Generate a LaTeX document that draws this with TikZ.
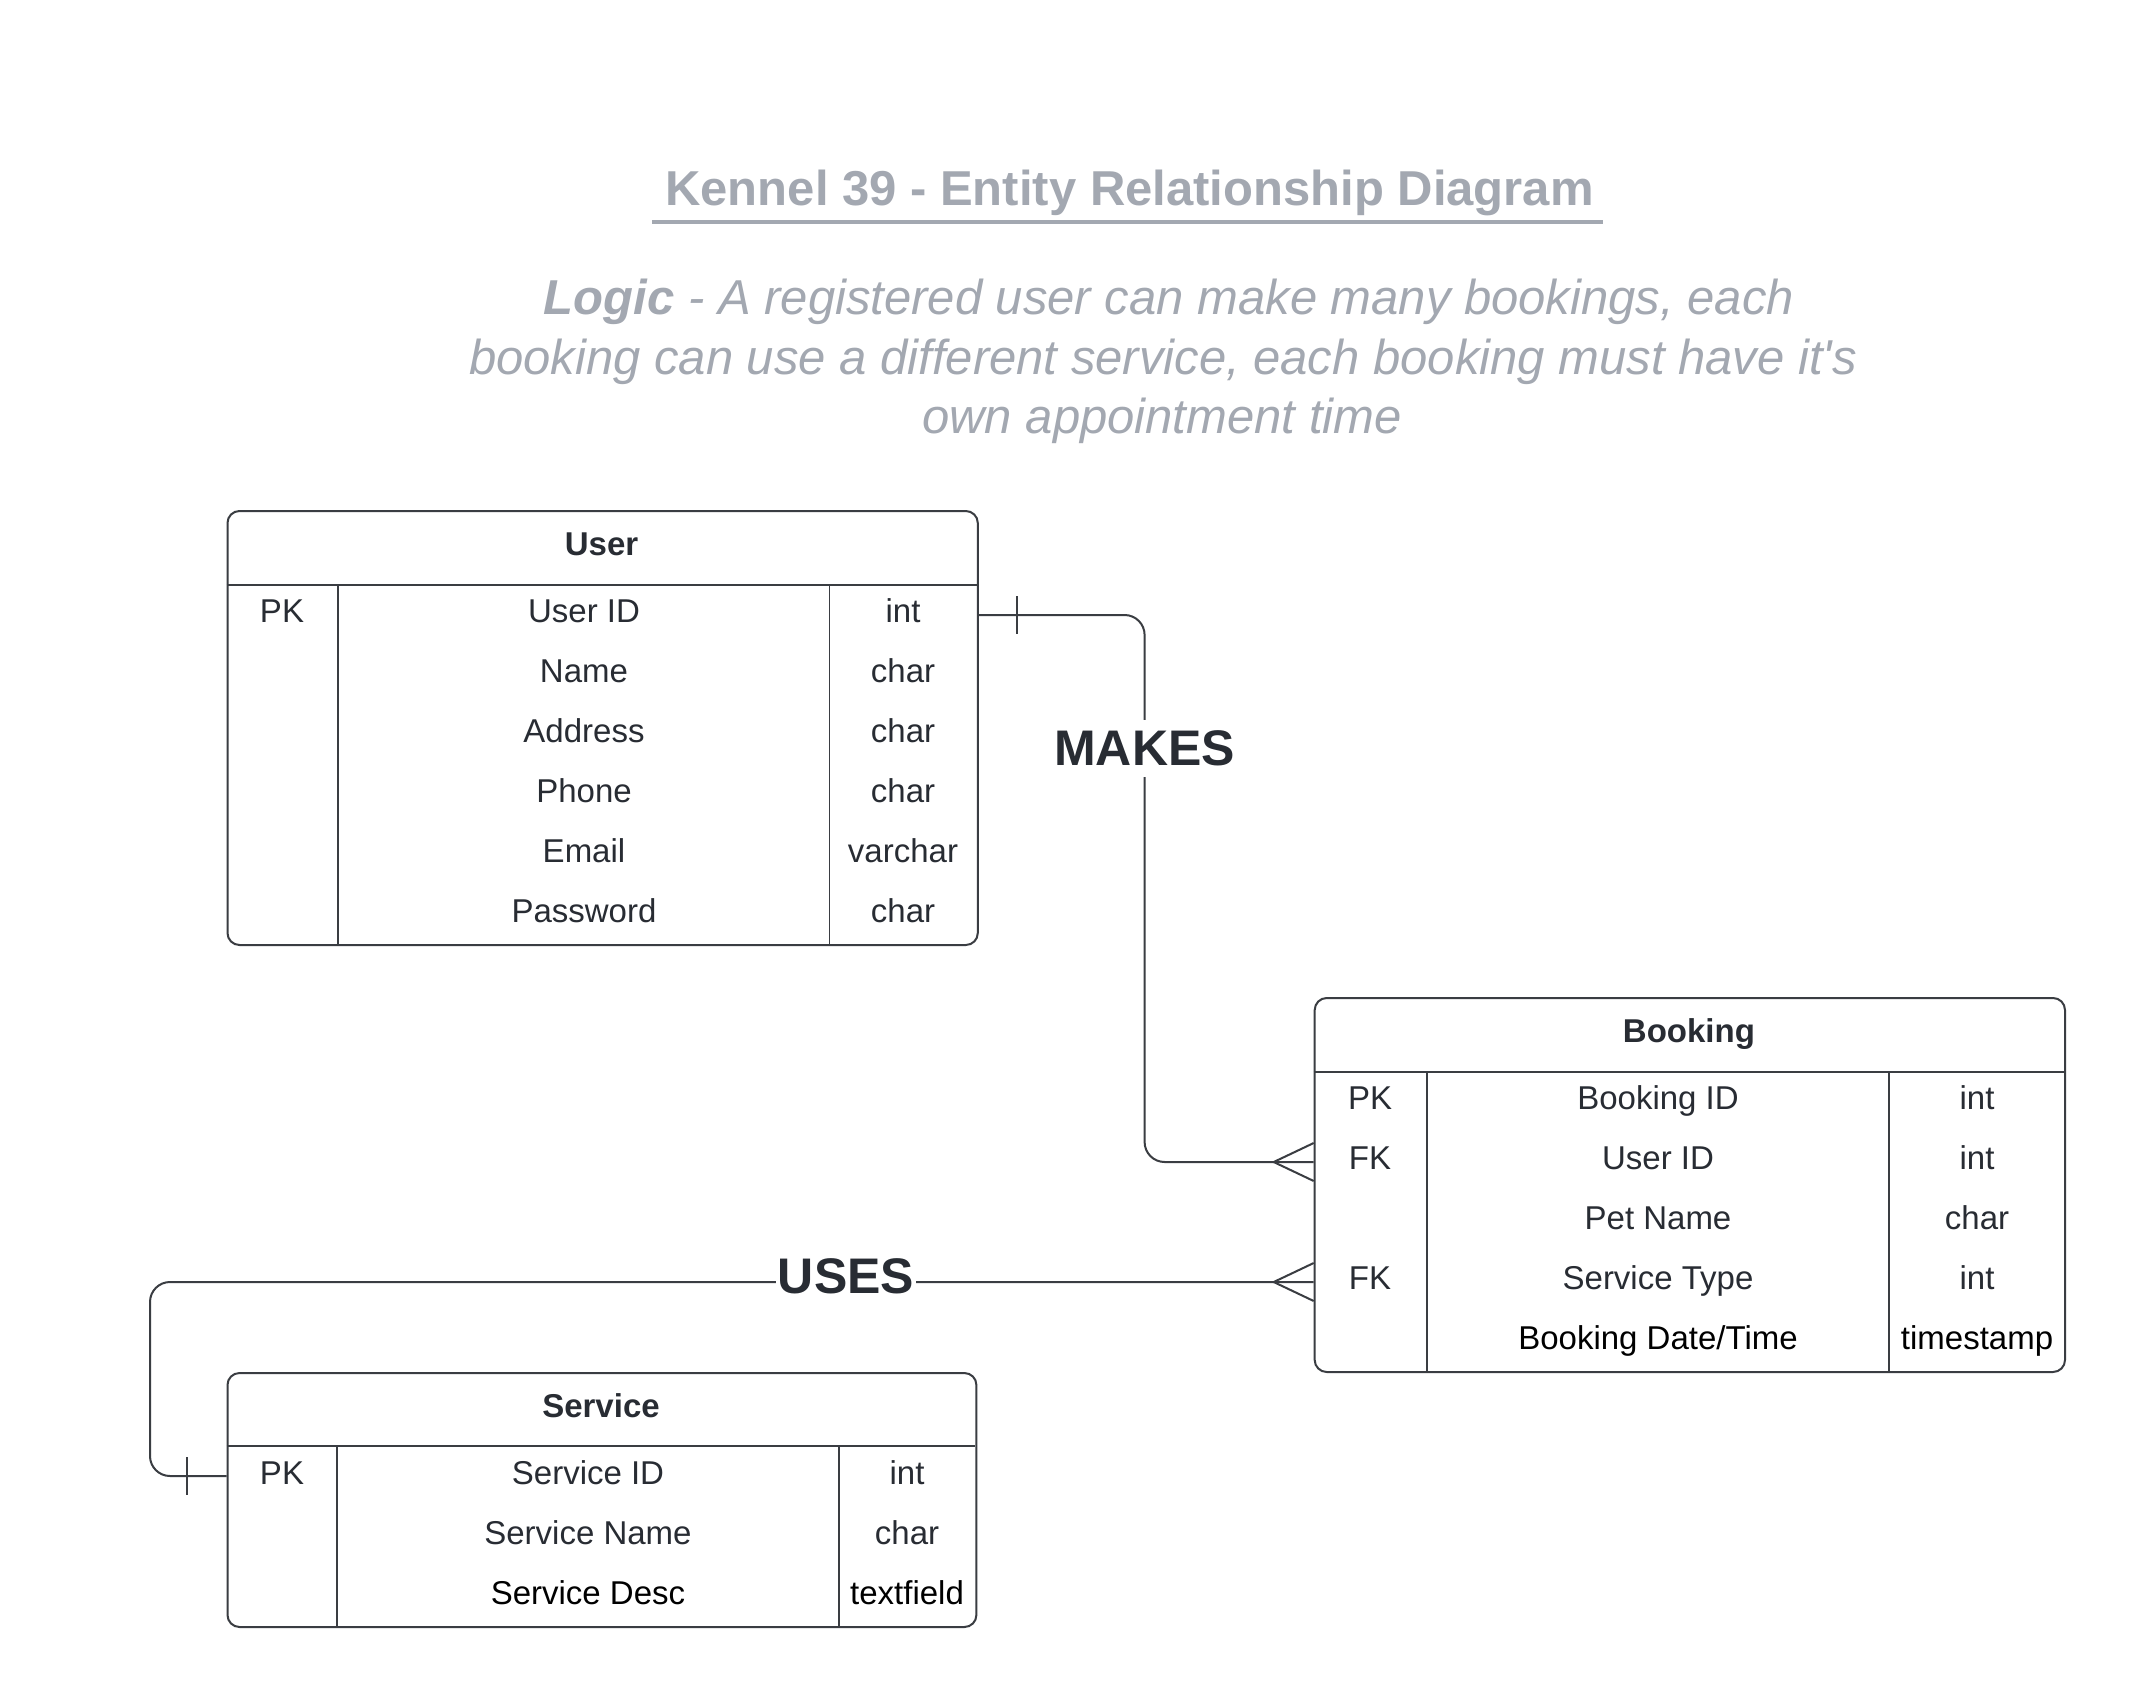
\documentclass[tikz,border=0pt]{standalone}
\usepackage{fontspec}
\setmainfont{Liberation Sans}[Ligatures=TeXOff]
\usetikzlibrary{calc}
\definecolor{ink}{HTML}{282C33}
\definecolor{muted}{HTML}{A3A8B1}
\definecolor{edge}{HTML}{3A3D42}
\tikzset{
 tbox/.style={draw=edge, line width=2pt, rounded corners=12pt, inner sep=0pt, fill=white, anchor=north west},
 rule/.style={draw=edge, line width=1.5pt},
 cell/.style={font=\fontsize{33}{40}\selectfont, text=ink, inner sep=0pt, anchor=base},
 headcell/.style={font=\fontsize{33}{40}\selectfont\bfseries, text=ink, inner sep=0pt, anchor=base},
 conn/.style={draw=edge, line width=2pt},
 rel/.style={font=\fontsize{50}{60}\selectfont\bfseries, text=ink, fill=white, inner xsep=2pt, inner ysep=11pt, anchor=base},
 logicline/.style={font=\fontsize{49}{59.5}\selectfont\itshape, text=muted, inner sep=0pt, anchor=base},
}
\begin{document}
\begin{tikzpicture}[x=1pt,y=-1pt]
\fill[white] (0,0) rectangle (2139,1703);
\useasboundingbox (0,0) rectangle (2139,1703);

% title
\node[font=\fontsize{49}{58}\selectfont\bfseries, text=muted, inner sep=0pt, anchor=base] (title) at (1129.5,205.5) {Kennel 39 - Entity Relationship Diagram};
\coordinate (ula) at (652,222);
\coordinate (ulb) at (1603,222);
\draw[muted, line width=3.5pt] (ula) -- (ulb);

\node[logicline] (logic1) at (1169,314.5) {\textbf{Logic} - A registered user can make many bookings, each};
\node[logicline] (logic2) at (1163,374) {booking can use a different service, each booking must have it's};
\node[logicline] (logic3) at (1162,433.5) {own appointment time};

% ---------- User ----------
\node[tbox, minimum width=750.3pt, minimum height=434pt] (user) at (226.5,510) {};
\draw[rule] (226.5,585) -- (976.8,585);
\draw[rule] (338,585) -- (338,944);
\draw[rule] (829.5,585) -- (829.5,944);
\node[headcell] (user-h) at (601.6,555) {User};
\node[cell] (u-k1) at (282,622) {PK};
\node[cell] (u-n1) at (584,622) {User ID};
\node[cell] (u-t1) at (903,622) {int};
\node[cell] (u-n2) at (584,682) {Name};
\node[cell] (u-t2) at (903,682) {char};
\node[cell] (u-n3) at (584,742) {Address};
\node[cell] (u-t3) at (903,742) {char};
\node[cell] (u-n4) at (584,802) {Phone};
\node[cell] (u-t4) at (903,802) {char};
\node[cell] (u-n5) at (584,862) {Email};
\node[cell] (u-t5) at (903,862) {varchar};
\node[cell] (u-n6) at (584,922) {Password};
\node[cell] (u-t6) at (903,922) {char};

% ---------- Booking ----------
\node[tbox, minimum width=750.3pt, minimum height=374pt] (booking) at (1313.7,997) {};
\draw[rule] (1313.7,1072) -- (2064,1072);
\draw[rule] (1427,1072) -- (1427,1371);
\draw[rule] (1889,1072) -- (1889,1371);
\node[headcell] (booking-h) at (1688.9,1042) {Booking};
\node[cell] (b-k1) at (1370,1109) {PK};
\node[cell] (b-n1) at (1658,1109) {Booking ID};
\node[cell] (b-t1) at (1977,1109) {int};
\node[cell] (b-k2) at (1370,1169) {FK};
\node[cell] (b-n2) at (1658,1169) {User ID};
\node[cell] (b-t2) at (1977,1169) {int};
\node[cell] (b-n3) at (1658,1229) {Pet Name};
\node[cell] (b-t3) at (1977,1229) {char};
\node[cell] (b-k4) at (1370,1289) {FK};
\node[cell] (b-n4) at (1658,1289) {Service Type};
\node[cell] (b-t4) at (1977,1289) {int};
\node[cell, text=black] (b-n5) at (1658,1349) {Booking Date/Time};
\node[cell, text=black] (b-t5) at (1977,1349) {timestamp};

% ---------- Service ----------
\node[tbox, minimum width=748.9pt, minimum height=254pt] (service) at (226.5,1372) {};
\draw[rule] (226.5,1446) -- (975.4,1446);
\draw[rule] (337,1446) -- (337,1626);
\draw[rule] (839,1446) -- (839,1626);
\node[headcell] (service-h) at (601,1417) {Service};
\node[cell] (s-k1) at (282,1484) {PK};
\node[cell] (s-n1) at (588,1484) {Service ID};
\node[cell] (s-t1) at (907,1484) {int};
\node[cell] (s-n2) at (588,1544) {Service Name};
\node[cell] (s-t2) at (907,1544) {char};
\node[cell, text=black] (s-n3) at (588,1604) {Service Desc};
\node[cell, text=black] (s-t3) at (907,1604) {textfield};

% ---------- connectors ----------
\path (user.north east) ++(0,105) coordinate (mk-a);
\path (booking.north west) ++(0,165) coordinate (mk-b);
\coordinate (mk-c) at (1144.6,615);
\path (booking.north west) ++(0,285) coordinate (us-a);
\path (service.north west) ++(0,104) coordinate (us-b);
\coordinate (us-c) at (150,1282);

% MAKES
\draw[conn, rounded corners=20pt] (mk-a) -- (mk-c) |- (mk-b);
\draw[conn] ($(mk-a)+(38,-19)$) -- ($(mk-a)+(38,19)$);
\draw[conn] ($(mk-b)+(0,-19)$) -- ($(mk-b)+(-40,0)$) -- ($(mk-b)+(0,19)$);
\node[rel] (makes) at (1144.6,765.5) {MAKES};

% USES
\draw[conn, rounded corners=20pt] (us-a) -- (us-c) |- (us-b);
\draw[conn] ($(us-b)+(-39.5,-19)$) -- ($(us-b)+(-39.5,19)$);
\draw[conn] ($(us-a)+(0,-19)$) -- ($(us-a)+(-40,0)$) -- ($(us-a)+(0,19)$);
\node[rel] (uses) at (846,1293.4) {USES};
\end{tikzpicture}
\end{document}
